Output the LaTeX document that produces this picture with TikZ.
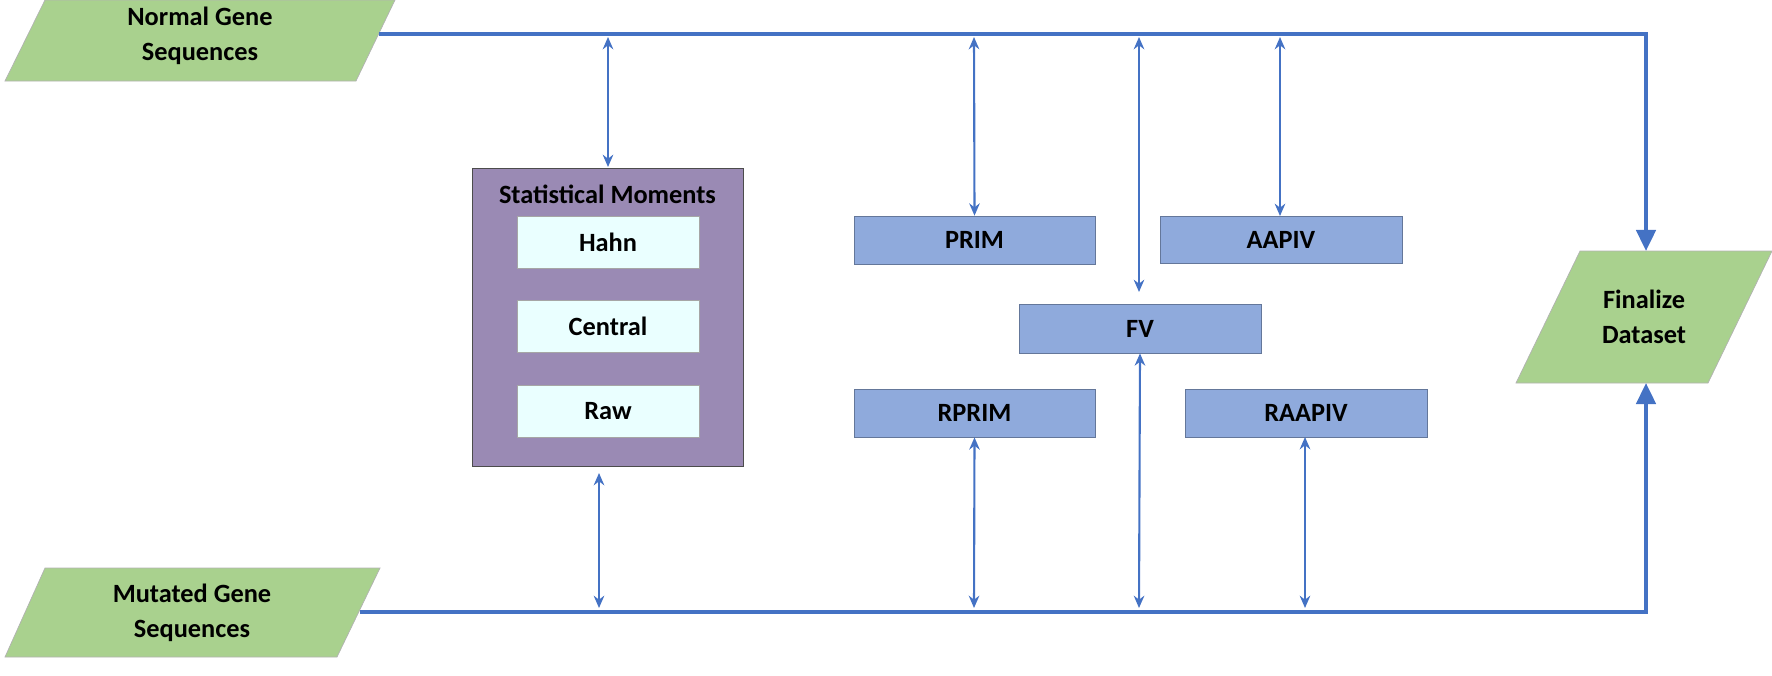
\documentclass[tikz,border=0pt]{standalone}
\usepackage{fontspec}
\setmainfont{Carlito}
\usetikzlibrary{arrows.meta}
\definecolor{grn}{HTML}{A9D18E}
\definecolor{pur}{HTML}{9A8AB4}
\definecolor{cyn}{HTML}{EAFFFF}
\definecolor{bbox}{HTML}{8FAADC}
\definecolor{lin}{HTML}{4472C4}
\begin{document}
\begin{tikzpicture}[x=0.02cm,y=-0.02cm,
  txt/.style={font=\fontsize{15}{20}\selectfont\bfseries,align=center,inner sep=0},
  para/.style={fill=grn,draw=gray!60,thin},
  bx/.style={fill=bbox,draw=bbox!70!black,line width=0.4pt,inner sep=0,font=\fontsize{15}{20}\selectfont\bfseries},
  inbx/.style={fill=cyn,draw=gray!70,line width=0.4pt,inner sep=0,font=\fontsize{15}{20}\selectfont\bfseries,minimum width=3.64cm,minimum height=1.04cm},
  main/.style={draw=lin,line width=2.2pt},
  dbl/.style={draw=lin,line width=1.2pt,{Stealth[length=7pt,width=6pt]}-{Stealth[length=7pt,width=6pt]}},
]
\useasboundingbox (0,0) rectangle (1772,676);
% parallelograms
\draw[para] (45,0) -- (395,0) -- (356,81) -- (5,81) -- cycle;
\node[txt] (ngs) at (200,36) {Normal Gene\\Sequences};
\draw[para] (45,568) -- (380,568) -- (337,657) -- (5,657) -- cycle;
\node[txt] (mgs) at (192,613) {Mutated Gene\\Sequences};
\draw[para] (1580,251) -- (1772,251) -- (1708,383) -- (1516,383) -- cycle;
\node[txt] (fd) at (1644,317) {Finalize\\Dataset};
\coordinate (fdt) at (1646,251);
\coordinate (fdb) at (1646,383);
\coordinate (nr) at (379,34);
\coordinate (mr) at (360,612);
% statistical moments
\node[fill=pur,draw=gray!60!black,line width=0.4pt,minimum width=5.42cm,minimum height=5.96cm,inner sep=0] (sm) at (607.5,317) {};
\node[txt] (smt) at (607.5,194) {Statistical Moments};
\node[inbx] (hahn) at (608,242) {Hahn};
\node[inbx] (central) at (608,326.5) {Central};
\node[inbx] (raw) at (608,411) {Raw};
% blue boxes
\node[bx,minimum width=4.82cm,minimum height=0.96cm] (prim) at (974.5,240) {PRIM};
\node[bx,minimum width=4.84cm,minimum height=0.94cm] (aapiv) at (1281,239.5) {AAPIV};
\node[bx,minimum width=4.84cm,minimum height=0.98cm] (fv) at (1140,328.5) {FV};
\node[bx,minimum width=4.82cm,minimum height=0.96cm] (rprim) at (974.5,413) {RPRIM};
\node[bx,minimum width=4.84cm,minimum height=0.96cm] (raapiv) at (1306,413) {RAAPIV};
% main lines
\draw[main,-{Triangle[length=12pt,width=11pt]}] (nr) -- (1646,34) -- (fdt);
\draw[main,-{Triangle[length=12pt,width=11pt]}] (mr) -- (1646,612) -- (fdb);
% connectors
\coordinate (a1) at (608,37); \coordinate (a2) at (608,167);
\draw[dbl] (a1) -- (a2);
\coordinate (b1) at (599,473); \coordinate (b2) at (599,608);
\draw[dbl] (b1) -- (b2);
\coordinate (c1) at (974,37);
\draw[dbl] (c1) -- (prim.north);
\coordinate (d1) at (1280,37);
\draw[dbl] (d1) -- (1280,216);
\coordinate (e1) at (1139,37); \coordinate (e2) at (1139,292);
\draw[dbl] (e1) -- (e2);
\coordinate (f2) at (1139,608);
\draw[dbl] (fv.south) -- (f2);
\coordinate (g2) at (974,608);
\draw[dbl] (rprim.south) -- (g2);
\coordinate (h2) at (1305,608);
\draw[dbl] (1305,437) -- (h2);
\end{tikzpicture}
\end{document}
